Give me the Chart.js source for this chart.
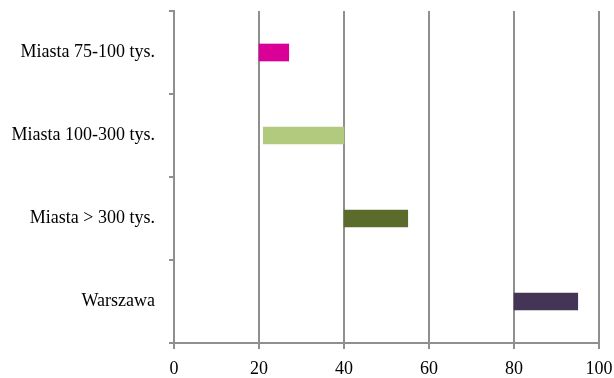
<!DOCTYPE html>
<html>
<head>
<meta charset="utf-8">
<script src="https://cdn.jsdelivr.net/npm/chart.js@4/dist/chart.umd.min.js"></script>
<style>
html,body{margin:0;padding:0;background:#fff;}
#wrap{width:614px;height:378px;position:relative;}
</style>
</head>
<body>
<div id="wrap"><canvas id="c" width="614" height="378"></canvas></div>
<script>
const categories = ["Miasta 75-100 tys.", "Miasta 100-300 tys.", "Miasta > 300 tys.", "Warszawa"];
const startValues = [20, 21, 40, 80];
const endValues = [27, 40, 55, 95];
const barColors = ["#DA0097", "#B2CA7E", "#5A6B2C", "#443556"];
const xTicks = [0, 20, 40, 60, 80, 100];

const ranges = categories.map((c, i) => [startValues[i], endValues[i]]);
const axisColor = "#8f8f8f";
const serif = "'Liberation Serif', 'Times New Roman', serif";

new Chart(document.getElementById('c'), {
  type: 'bar',
  data: {
    labels: categories,
    datasets: [{
      data: ranges,
      backgroundColor: barColors,
      borderWidth: 0,
      borderSkipped: false,
      barThickness: 17
    }]
  },
  options: {
    indexAxis: 'y',
    responsive: false,
    animation: false,
    events: [],
    layout: { padding: { top: 11, right: 15, left: 0, bottom: 0 } },
    plugins: { legend: { display: false }, tooltip: { enabled: false } },
    scales: {
      x: {
        min: 0, max: 100,
        afterBuildTicks: (s) => { s.ticks = xTicks.map(v => ({ value: v })); },
        afterFit: (s) => { s.height = 35; s.paddingLeft = 0; s.paddingRight = 0; },
        grid: { color: axisColor, lineWidth: 2, tickLength: 6, drawTicks: true },
        border: { display: true, color: axisColor, width: 2 },
        ticks: { color: '#000', padding: 9, maxRotation: 0, font: { family: serif, size: 18 } }
      },
      y: {
        afterFit: (s) => { s.width = 174; s.paddingTop = 0; s.paddingBottom = 0; },
        grid: { drawOnChartArea: false, drawTicks: true, tickLength: 5, color: axisColor, lineWidth: 2, offset: true },
        border: { display: true, color: axisColor, width: 2 },
        ticks: { color: '#000', padding: 14, font: { family: serif, size: 18 } }
      }
    }
  }
});
</script>
</body>
</html>
